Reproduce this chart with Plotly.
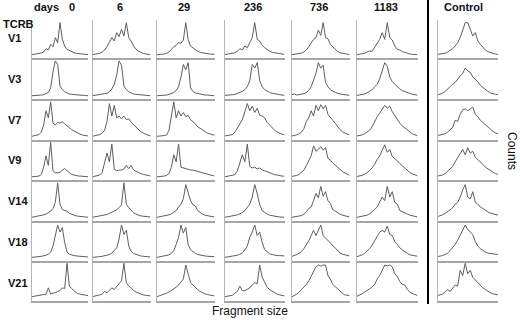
import plotly.graph_objects as go

# ---- data (relative counts across fragment-size bins) ----
days = ["0", "6", "29", "236", "736", "1183", "Control"]
rows = ["V1", "V3", "V7", "V9", "V14", "V18", "V21"]
fragment_bins = list(range(25))

v1 = [
    [4,5,5,7,9,12,22,18,35,28,55,40,100,50,30,20,16,12,10,8,7,6,5,5,4],
    [4,5,6,8,12,18,28,40,55,45,70,58,80,60,100,55,45,30,20,14,10,8,6,5,4],
    [4,4,5,6,8,12,20,28,32,40,38,48,100,50,30,24,18,14,11,9,8,7,6,5,5],
    [4,5,6,8,10,14,22,18,30,25,42,55,100,50,45,32,25,18,14,11,9,8,7,6,5],
    [4,5,6,7,9,12,18,28,40,50,55,78,62,100,55,52,35,28,18,14,10,8,6,5,4],
    [4,5,6,8,12,15,14,25,38,50,70,50,100,55,48,30,20,18,13,10,8,6,5,5,4],
    [5,6,7,8,12,16,22,30,40,55,75,100,100,80,60,70,45,35,25,18,13,10,7,6,5],
]
v3 = [
    [3,3,4,4,5,6,8,12,25,70,100,90,30,20,14,10,8,7,6,5,5,4,4,4,3],
    [3,4,4,5,6,8,10,14,22,35,60,100,88,30,20,14,10,8,7,6,5,5,4,4,3],
    [3,3,4,4,5,7,9,12,18,28,55,90,75,95,25,15,11,9,7,6,5,5,4,4,3],
    [4,4,5,6,7,9,12,15,20,28,45,90,80,95,45,28,20,15,12,10,8,7,6,5,4],
    [6,8,5,6,7,9,12,18,28,45,65,95,80,88,40,28,20,16,12,10,8,7,6,5,4],
    [4,5,6,8,11,15,20,28,35,50,75,95,85,55,42,35,28,22,17,14,11,9,7,6,5],
    [5,7,10,15,22,28,35,40,50,58,65,80,72,68,55,48,42,32,26,20,15,11,8,7,6],
]
v7 = [
    [3,4,5,8,15,35,75,55,100,40,35,42,40,44,38,32,26,22,18,14,11,8,6,5,4],
    [3,4,5,8,12,20,45,95,60,90,55,60,52,60,50,52,42,35,28,22,16,12,8,6,4],
    [3,3,4,5,7,20,60,100,55,75,60,70,58,62,50,45,38,30,25,20,16,12,10,8,6],
    [4,5,6,8,15,25,38,50,70,95,75,88,70,82,62,60,55,42,35,26,20,15,11,9,7],
    [4,5,7,10,15,25,45,55,75,60,90,75,92,80,90,65,55,48,40,30,22,16,12,9,7],
    [4,5,7,10,14,20,30,45,58,68,80,90,82,88,72,60,52,40,32,26,20,14,10,7,5],
    [5,6,8,10,15,22,28,48,45,65,78,80,75,80,85,65,58,48,42,35,28,22,17,13,10],
]
v9 = [
    [3,3,4,5,10,30,62,35,100,20,14,14,15,22,26,20,14,10,8,6,5,5,4,4,3],
    [3,4,5,8,15,40,70,45,95,25,20,22,22,25,35,26,35,22,18,15,12,10,8,6,5],
    [3,3,4,5,7,12,30,65,45,95,30,28,25,24,22,22,20,18,16,14,12,10,8,6,5],
    [3,4,5,6,9,20,40,65,45,95,32,28,30,25,28,22,20,17,14,11,9,8,6,5,5],
    [4,5,7,10,15,22,35,50,62,90,75,80,88,78,85,55,50,42,35,28,24,18,14,10,7],
    [4,5,7,10,14,20,28,38,52,62,78,93,72,80,60,55,48,40,33,26,20,15,11,8,6],
    [5,6,8,12,18,25,32,45,58,68,80,65,85,70,75,58,52,45,38,30,25,20,15,12,10],
]
v14 = [
    [3,4,5,6,8,10,12,15,20,28,45,100,40,25,23,20,14,11,9,7,6,5,4,4,3],
    [3,4,5,6,7,9,11,14,17,20,24,30,38,100,40,30,22,16,12,9,7,6,5,4,4],
    [3,4,5,6,8,10,13,18,22,32,40,55,95,72,50,38,35,22,16,12,9,7,6,5,4],
    [3,4,5,6,8,10,13,16,22,30,40,60,95,70,38,22,16,12,9,7,6,5,4,4,3],
    [3,4,5,6,8,12,18,28,32,50,70,58,90,62,75,50,42,25,20,15,12,9,7,5,4],
    [3,4,5,7,9,13,18,25,32,45,60,50,90,60,75,45,40,22,18,14,12,9,7,6,4],
    [5,7,10,14,18,24,30,40,45,60,80,95,60,55,75,45,40,32,28,22,18,15,13,11,9],
]
v18 = [
    [3,3,4,5,6,7,9,12,18,35,70,95,75,88,45,18,12,9,8,7,6,5,5,5,4],
    [3,3,4,5,6,7,9,11,15,22,30,55,95,68,80,35,20,14,11,9,7,6,5,5,4],
    [3,4,5,6,8,10,14,22,40,60,95,72,88,40,25,18,14,11,9,8,7,6,6,5,5],
    [3,4,5,6,8,9,12,16,24,35,60,75,95,65,75,45,25,18,13,11,9,8,8,8,7],
    [6,8,11,15,20,28,38,50,65,80,65,78,95,65,58,52,42,35,28,22,16,12,10,8,7],
    [5,7,10,14,20,28,38,50,65,75,80,75,92,68,65,48,40,30,24,18,14,10,8,7,6],
    [5,6,8,11,15,22,30,40,52,65,80,95,82,75,68,48,35,28,22,18,15,14,13,12,11],
]
v21 = [
    [5,6,6,8,8,10,12,30,12,15,16,20,22,30,28,100,35,28,22,16,13,11,10,9,8],
    [5,6,8,10,12,20,16,22,30,25,35,42,50,100,45,35,30,22,18,15,12,10,9,8,7],
    [5,7,9,12,15,18,22,26,32,38,45,55,95,70,45,38,30,25,20,16,13,11,9,8,7],
    [5,6,7,9,15,20,35,22,22,25,30,38,45,42,95,60,45,32,25,20,15,12,10,8,7],
    [5,8,12,18,25,32,40,50,62,75,90,95,92,95,95,65,55,40,33,28,20,15,10,10,8],
    [6,9,13,18,22,27,33,40,55,65,80,95,93,95,90,70,62,48,40,38,25,18,14,10,8],
    [8,9,12,18,25,20,30,38,35,80,65,100,70,80,60,52,45,38,30,25,20,16,13,11,10],
]
all_rows = [v1, v3, v7, v9, v14, v18, v21]

# ---- layout geometry (pixels) ----
W, H = 520, 320
col_x = [(32, 88), (92.5, 150.5), (157, 214.5), (225, 284.5), (292, 349.5), (357, 417.5), (437.5, 498)]
row_top = [20, 58, 99, 139.5, 180, 220.5, 260.5]
row_bot = [58, 99, 139.5, 180, 220.5, 260.5, 300.5]

FONT = "Liberation Sans, Arial, sans-serif"
fig = go.Figure()
layout = dict(
    width=W, height=H, margin=dict(l=0, r=0, t=0, b=0),
    paper_bgcolor="white", plot_bgcolor="white", showlegend=False,
    font=dict(family=FONT, color="#111111"),
)

for r, row_data in enumerate(all_rows):
    for c, vals in enumerate(row_data):
        k = r * 7 + c + 1
        xs = "" if k == 1 else str(k)
        fig.add_trace(go.Scatter(
            x=fragment_bins, y=vals, mode="lines",
            line=dict(color="#5e5e5e", width=1),
            xaxis="x" + xs, yaxis="y" + xs, hoverinfo="skip",
        ))
        x0, x1 = col_x[c]
        layout["xaxis" + xs] = dict(
            domain=[x0 / W, x1 / W], range=[0, 24], anchor="y" + xs,
            showline=True, linecolor="#a6a6a6", linewidth=2,
            showgrid=False, zeroline=False, showticklabels=False, ticks="",
            fixedrange=True,
        )
        layout["yaxis" + xs] = dict(
            domain=[1 - row_bot[r] / H, 1 - row_top[r] / H], range=[-6, 108],
            anchor="x" + xs,
            showline=True, linecolor="#b4b4b4", linewidth=1,
            showgrid=False, zeroline=False, showticklabels=False, ticks="",
            fixedrange=True,
        )

fig.update_layout(**layout)

ann = []
def txt(s, x, y, size=11, anchor="center", angle=0, bold=False):
    ann.append(dict(
        text=("<b>%s</b>" % s) if bold else s, x=x / W, y=1 - y / H,
        xref="paper", yref="paper", showarrow=False,
        xanchor=anchor, yanchor="middle", textangle=angle,
        font=dict(family=FONT, size=size, color="#111111"),
    ))

header_x = [72, 120, 184, 253, 319, 386, 463]
txt("days", 46, 7, size=11, bold=True)
for lab, hx in zip(days, header_x):
    txt(lab, hx, 7, size=11, bold=True)
txt("TCRB", 1, 24, size=11, anchor="left", bold=True)
row_label_y = [38, 79, 120, 160, 201, 242, 283]
for lab, ly in zip(rows, row_label_y):
    txt(lab, 6, ly, size=11, anchor="left", bold=True)
txt("Fragment size", 250, 311, size=12)
txt("Counts", 512, 151, size=12, angle=90)

fig.update_layout(
    annotations=ann,
    shapes=[dict(type="line", xref="paper", yref="paper",
                 x0=428 / W, x1=428 / W, y0=1 - 0 / H, y1=1 - 304 / H,
                 line=dict(color="black", width=2))],
)

fig.write_html(
    "out.html",
    config={"displayModeBar": False, "staticPlot": True},
    post_script="document.body.style.margin='0';document.body.style.overflow='hidden';",
)
